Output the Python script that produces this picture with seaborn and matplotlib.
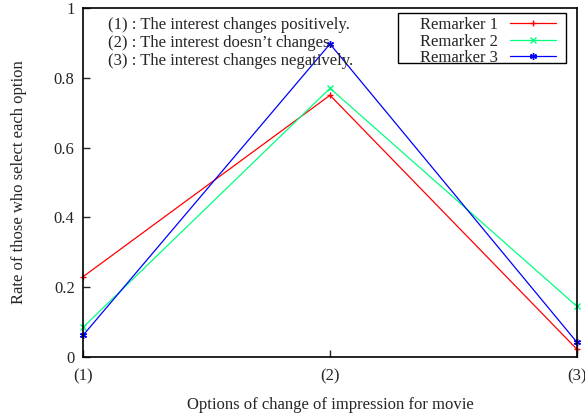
import matplotlib
matplotlib.use("Agg")
import matplotlib.pyplot as plt
from matplotlib.patches import Rectangle
import seaborn as sns

# ── Data ──────────────────────────────────────────────────────────────────────
options = [1, 2, 3]
option_labels = ["(1)", "(2)", "(3)"]
remarker1 = [0.230, 0.750, 0.022]
remarker2 = [0.085, 0.770, 0.145]
remarker3 = [0.062, 0.897, 0.042]
series_names = ["Remarker 1", "Remarker 2", "Remarker 3"]
colors = ["#ff0000", "#00ff7f", "#0000ff"]
markers = ["+", "x", (6, 2, 0)]

notes = [
    "(1) : The interest changes positively.",
    "(2) : The interest doesn\u2019t changes.",
    "(3) : The interest changes negatively.",
]

# ── Plot ──────────────────────────────────────────────────────────────────────
sns.set_style("ticks")
plt.rcParams["font.family"] = ["Liberation Serif", "DejaVu Serif"]

fig = plt.figure(figsize=(5.85, 4.13), dpi=100)
ax = fig.add_axes([0.1419, 0.1356, 0.8444, 0.845])

for name, vals, c, m in zip(series_names, [remarker1, remarker2, remarker3], colors, markers):
    sns.lineplot(x=options, y=vals, color=c, marker=m, label=name, linewidth=0.9,
                 markersize=5, markeredgewidth=1.0, markeredgecolor=c,
                 clip_on=False, ax=ax)

ax.set_xlim(1, 3)
ax.set_ylim(0, 1)
ax.set_xticks(options)
ax.set_xticklabels(option_labels)
ax.set_yticks([0, 0.2, 0.4, 0.6, 0.8, 1])
ax.set_yticklabels(["0", "0.2", "0.4", "0.6", "0.8", "1"])
ax.tick_params(direction="in", length=5, width=1, labelsize=12, pad=6)
ax.tick_params(axis="x", pad=8)
for s in ax.spines.values():
    s.set_visible(True)
    s.set_linewidth(1.2)
    s.set_color("black")

ax.set_xlabel("Options of change of impression for movie", fontsize=12, labelpad=9)
ax.set_ylabel("Rate of those who select each option", fontsize=12, labelpad=19)

for i, t in enumerate(notes):
    ax.text(0.051, 0.952 - i * 0.052, t, transform=ax.transAxes,
            fontsize=12, va="center", ha="left")

# gnuplot-style key: text, then sample line, inside a plain box
leg = ax.legend(loc="upper right", bbox_to_anchor=(0.9575, 0.974), markerfirst=False,
                fontsize=12, frameon=False, handlelength=2.75, borderpad=0,
                labelspacing=0.03, handletextpad=0.72, borderaxespad=0)
ax.add_patch(Rectangle((0.638, 0.842), 0.34, 0.144, transform=ax.transAxes,
                       fill=False, edgecolor="black", linewidth=1.0, zorder=5))

fig.savefig("out.png", dpi=100)
